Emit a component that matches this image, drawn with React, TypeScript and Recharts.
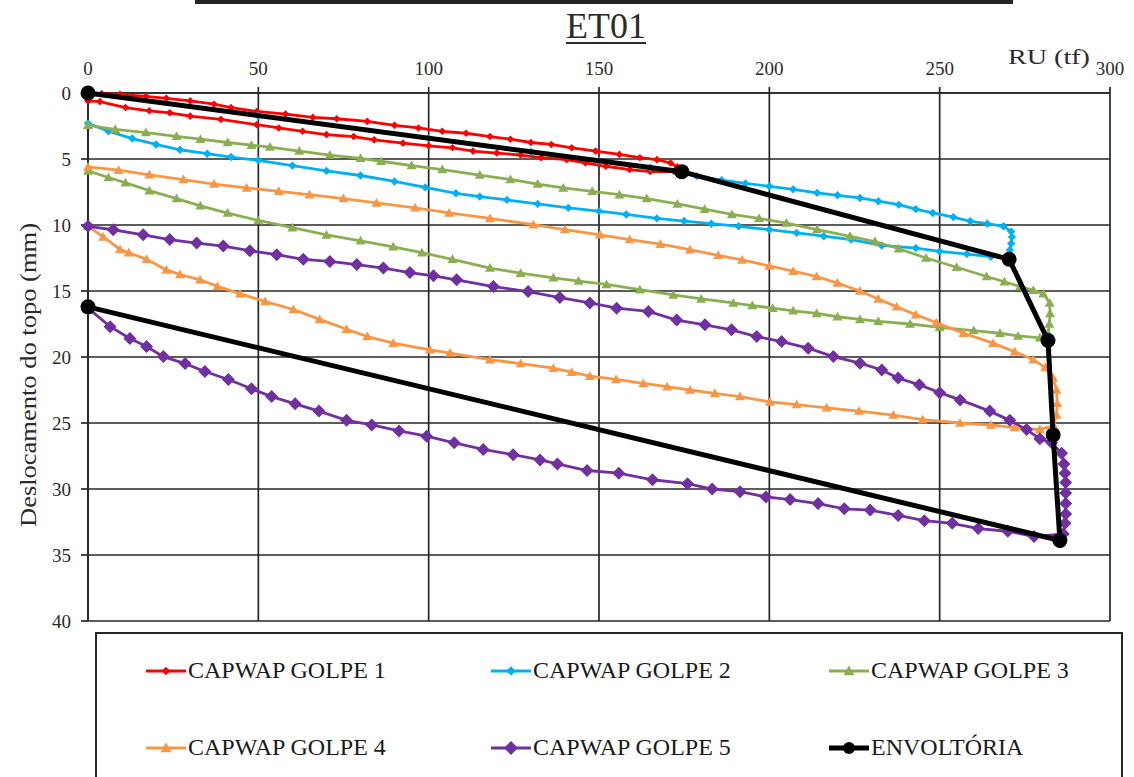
import React from 'react';
import { ScatterChart, Scatter, XAxis, YAxis, CartesianGrid } from 'recharts';

const ruTicks = [0, 50, 100, 150, 200, 250, 300];
const deslTicks = [0, 5, 10, 15, 20, 25, 30, 35, 40];

const seriesNames = [
  'CAPWAP GOLPE 1',
  'CAPWAP GOLPE 2',
  'CAPWAP GOLPE 3',
  'CAPWAP GOLPE 4',
  'CAPWAP GOLPE 5',
  'ENVOLTÓRIA',
];

// [RU (tf), deslocamento do topo (mm)] - carregamento seguido de descarregamento
const golpe1: [number, number][] = [
  [0, 0], [4, 0.05], [9.4, 0.1], [17, 0.25], [23, 0.4], [30, 0.6], [37, 0.85], [42, 1.1],
  [49.5, 1.4], [58, 1.6], [66, 1.85], [73, 1.95], [82, 2.15], [90, 2.45], [97, 2.65],
  [104, 2.9], [111, 3.05], [118, 3.3], [124, 3.5], [130, 3.75], [136, 3.9], [142, 4.15],
  [149, 4.4], [156, 4.65], [162, 4.9], [167, 5.05], [171, 5.3], [173, 5.6],
  [172, 5.95], [165, 5.95], [159, 5.8], [152, 5.55], [146, 5.3], [140.5, 5.05], [133, 4.9],
  [127, 4.7], [120, 4.55], [113, 4.4], [107, 4.15], [100, 4.0], [92.5, 3.8], [84, 3.55],
  [78, 3.3], [70, 3.15], [63, 2.9], [56, 2.65], [49.5, 2.4], [39, 2.0], [30, 1.75],
  [24, 1.5], [18, 1.35], [11, 1.1], [3.5, 0.65], [0, 0.6],
];

const golpe2: [number, number][] = [
  [0, 0.05], [50, 1.72], [100, 3.43], [130, 4.45], [150, 5.13], [165, 5.65], [174, 6.0],
  [178.7, 6.3], [186, 6.6], [193, 6.85], [200, 7.07], [207, 7.3], [214, 7.57], [220, 7.75],
  [226.6, 7.95], [232, 8.2], [238, 8.46], [243, 8.8], [248, 9.09], [254, 9.4], [259, 9.72],
  [264, 9.9], [268.7, 10.1], [271, 10.5], [271.2, 10.9], [271, 11.4], [270.6, 11.9], [270.2, 12.45],
  [265, 12.4], [258, 12.2], [250, 12.0], [243, 11.75], [233, 11.55], [224, 11.1], [216, 10.85],
  [208, 10.6], [200, 10.35], [191, 10.1], [183, 9.9], [175, 9.7], [167, 9.5], [158, 9.2],
  [150, 8.95], [141, 8.7], [132, 8.4], [123, 8.1], [115, 7.85], [108, 7.6], [99, 7.15],
  [90, 6.7], [80, 6.25], [70, 5.9], [60, 5.5], [50, 5.1], [42, 4.85], [35, 4.6], [27, 4.3],
  [20, 3.9], [13, 3.45], [6, 2.9], [0, 2.3],
];

const golpe3: [number, number][] = [
  [0, 2.45], [8, 2.75], [17, 3.0], [26, 3.28], [33, 3.5], [41, 3.75], [48, 3.95], [53.4, 4.1],
  [62, 4.4], [71, 4.7], [80, 4.95], [86, 5.17], [95, 5.5], [104, 5.8], [115, 6.22], [124, 6.55],
  [132, 6.9], [139.5, 7.19], [148, 7.45], [156, 7.7], [164, 8.0], [173, 8.4], [181, 8.8],
  [189, 9.2], [197, 9.5], [205, 9.85], [214, 10.35], [223.7, 10.86], [231, 11.25], [238, 11.8],
  [246, 12.5], [255, 13.2], [263.8, 13.9], [269, 14.3], [273.6, 14.66], [277.5, 14.95],
  [280.4, 15.2], [282.3, 15.9], [282.4, 16.7], [282.2, 17.5], [281.8, 18.2],
  [279.4, 18.55], [273, 18.4], [267.7, 18.2], [260, 18.0], [250, 17.75], [241.3, 17.5],
  [232, 17.3], [226.6, 17.15], [220, 16.95], [213.9, 16.7], [207, 16.5], [201, 16.3],
  [195, 16.1], [189.4, 15.9], [180, 15.6], [171.8, 15.3], [162, 14.9], [152.2, 14.5],
  [144, 14.25], [136.6, 14.0], [127, 13.65], [118, 13.26], [107, 12.6], [98, 12.1],
  [89.6, 11.65], [80, 11.2], [70, 10.75], [60, 10.2], [50, 9.65], [41, 9.1], [33, 8.55],
  [26, 8.0], [18, 7.4], [11, 6.8], [6, 6.4], [0, 5.9],
];

const golpe4: [number, number][] = [
  [0, 5.6], [9, 5.85], [18, 6.2], [28, 6.56], [37, 6.9], [46.6, 7.19], [56, 7.45], [65, 7.7],
  [75, 8.0], [84.7, 8.33], [96, 8.7], [106, 9.09], [118, 9.5], [130.7, 9.98], [140, 10.35],
  [150.3, 10.74], [159, 11.1], [168, 11.45], [176.7, 11.87], [185, 12.3], [192, 12.65],
  [200, 13.1], [207, 13.5], [213.9, 13.9], [220, 14.4], [226.6, 15.0], [232, 15.6],
  [237.4, 16.2], [243, 16.8], [249, 17.4], [257, 18.2], [265.7, 18.95], [272, 19.6],
  [277.5, 20.2], [281, 20.8], [283.3, 21.6], [284.3, 22.5], [284.5, 23.5], [284.3, 24.4],
  [283.5, 25.2],
  [279.4, 25.5], [272, 25.35], [265, 25.15], [256, 25.0], [245, 24.75], [236.4, 24.4],
  [226.3, 24.1], [216.8, 23.85], [208, 23.6], [200.2, 23.4], [191.4, 23.0], [184, 22.75],
  [176.7, 22.5], [170, 22.25], [163, 22.0], [155, 21.7], [147.3, 21.45], [142, 21.15],
  [136.6, 20.85], [127, 20.5], [118, 20.2], [106.3, 19.7], [100.4, 19.46], [89.6, 18.95],
  [82, 18.45], [75.9, 17.9], [68, 17.15], [60.3, 16.4], [52, 15.8], [44.6, 15.2], [38, 14.65],
  [32.9, 14.15], [27, 13.75], [23, 13.4], [17.2, 12.6], [12, 12.1], [9.4, 11.85], [4.5, 10.9],
  [0, 10.1],
];

const golpe5: [number, number][] = [
  [0, 10.1], [7.4, 10.36], [16.2, 10.74], [24, 11.1], [31.9, 11.37], [39.7, 11.6], [47.5, 11.95],
  [55.4, 12.25], [63.2, 12.6], [71, 12.76], [78.9, 13.0], [86.7, 13.26], [94.5, 13.6],
  [101.4, 13.85], [108.2, 14.15], [119, 14.66], [129.2, 15.04], [138.5, 15.5], [147.3, 15.9],
  [155.2, 16.3], [164.5, 16.55], [172.8, 17.2], [181.1, 17.56], [188.9, 17.94], [196.3, 18.45],
  [203.6, 18.83], [211.4, 19.33], [218.8, 19.97], [226.6, 20.47], [233, 20.98], [237.8, 21.6],
  [244, 22.1], [250, 22.7], [256, 23.25], [264.7, 24.1], [270.6, 24.8], [275.5, 25.5],
  [279.4, 26.2], [282.9, 26.5], [285.8, 27.3], [286.5, 28.1], [286.8, 28.8], [287, 29.5],
  [287, 30.3], [287, 31.1], [287, 31.9], [286.8, 32.6], [286.3, 33.4],
  [277.7, 33.6], [270, 33.2], [261.3, 33.0], [253.7, 32.6], [245.5, 32.4], [237.8, 32.0],
  [229.6, 31.6], [222, 31.5], [214.3, 31.1], [206.1, 30.8], [199, 30.6], [191.4, 30.2],
  [183.2, 30.0], [176, 29.6], [165.7, 29.3], [155.8, 28.8], [146.5, 28.6], [137.8, 28.1],
  [132.7, 27.8], [124.8, 27.4], [116, 27.0], [107.5, 26.5], [99.4, 26.0], [91.3, 25.6],
  [83.3, 25.15], [75.9, 24.8], [67.8, 24.1], [60.8, 23.55], [53.9, 23.0], [48, 22.4],
  [41.2, 21.7], [34.3, 21.1], [28.5, 20.5], [22.1, 19.97], [17.2, 19.2], [12.3, 18.6],
  [6.5, 17.7], [0, 16.3],
];

const envoltoria: [number, number][] = [
  [0, 0], [174.3, 5.96], [270.4, 12.6], [281.8, 18.75], [283.3, 25.9], [285.3, 33.9], [0, 16.2],
];

const toPoints = (rows: [number, number][]) => rows.map(([ru, d]) => ({ ru, d }));

const FONT = "'Liberation Serif', 'Times New Roman', serif";
const INK = '#262626';
const TEXT = '#2b2b2b';

type MarkerKind = 'diamond' | 'triangle' | 'circle';

const markerPath = (kind: MarkerKind, cx: number, cy: number, r: number) => {
  if (kind === 'diamond') return `M${cx},${cy - r}L${cx + r},${cy}L${cx},${cy + r}L${cx - r},${cy}Z`;
  if (kind === 'triangle') return `M${cx},${cy - r}L${cx + r},${cy + r * 0.75}L${cx - r},${cy + r * 0.75}Z`;
  return `M${cx - r},${cy}a${r},${r} 0 1,0 ${2 * r},0a${r},${r} 0 1,0 ${-2 * r},0`;
};

const makeShape = (kind: MarkerKind, r: number, color: string) => (p: any) =>
  <path d={markerPath(kind, p.cx, p.cy, r)} fill={color} />;

const series = [
  { rows: golpe1, color: '#FF0000', kind: 'diamond' as MarkerKind, r: 3.8, width: 2.8 },
  { rows: golpe2, color: '#00B0F0', kind: 'diamond' as MarkerKind, r: 4.2, width: 2.8 },
  { rows: golpe3, color: '#8CAE52', kind: 'triangle' as MarkerKind, r: 5, width: 2.8 },
  { rows: golpe4, color: '#F79646', kind: 'triangle' as MarkerKind, r: 5, width: 2.8 },
  { rows: golpe5, color: '#7030A0', kind: 'diamond' as MarkerKind, r: 6.5, width: 2.8 },
  { rows: envoltoria, color: '#000000', kind: 'circle' as MarkerKind, r: 7.5, width: 5 },
];

const YTitle = ({ viewBox }: any) => {
  const x = viewBox.x + 28;
  const y = viewBox.y + 282;
  return (
    <text x={x} y={y} transform={`rotate(-90 ${x} ${y})`} textAnchor="middle" dominantBaseline="central"
      fontFamily={FONT} fontSize={23} fill={TEXT} textLength={304} lengthAdjust="spacingAndGlyphs">
      Deslocamento do topo  (mm)
    </text>
  );
};

const XTitle = ({ viewBox }: any) => (
  <text x={viewBox.x + viewBox.width - 61} y={viewBox.y + 57} textAnchor="middle" dominantBaseline="central"
    fontFamily={FONT} fontSize={21} fill={TEXT} textLength={82} lengthAdjust="spacingAndGlyphs">
    RU (tf)
  </text>
);

const LegendKey = ({ color, kind, r, width }: any) => (
  <svg width={42} height={20} style={{ display: 'block' }}>
    <line x1={1} y1={10} x2={41} y2={10} stroke={color} strokeWidth={width} />
    <path d={markerPath(kind, 21, 10, kind === 'circle' ? 6 : r + 0.5)} fill={color} />
  </svg>
);

const legendCols = [48, 393, 731];
const legendRows = [36, 113];

export default function App() {
  return (
    <div style={{ position: 'absolute', left: 0, top: 0, width: 1134, height: 777, background: '#fff', overflow: 'hidden', fontFamily: FONT }}>
      <div style={{ position: 'absolute', left: 195, top: 0, width: 818, borderTop: `4px solid ${INK}` }} />
      <div style={{ position: 'absolute', left: 606, top: 5, transform: 'translateX(-50%)', whiteSpace: 'nowrap' }}>
        <span style={{ fontSize: 36, color: TEXT, textDecoration: 'underline', textUnderlineOffset: 4, textDecorationThickness: 2 }}>ET01</span>
      </div>
      <ScatterChart width={1134} height={777} margin={{ top: 0, right: 24, bottom: 156, left: 0 }}>
        <CartesianGrid stroke={INK} strokeWidth={1.7} fill="#fff" />
        <XAxis type="number" dataKey="ru" orientation="top" domain={[0, 300]} ticks={ruTicks} height={93}
          tickSize={6} tickMargin={12} axisLine={{ stroke: INK, strokeWidth: 1.7 }} tickLine={{ stroke: INK, strokeWidth: 1.7 }}
          tick={{ fontFamily: FONT, fontSize: 19, fill: TEXT }} label={<XTitle />} />
        <YAxis type="number" dataKey="d" reversed domain={[0, 40]} ticks={deslTicks} width={88}
          tickSize={7} tickMargin={10} axisLine={{ stroke: INK, strokeWidth: 1.7 }} tickLine={{ stroke: INK, strokeWidth: 1.7 }}
          tick={{ fontFamily: FONT, fontSize: 19, fill: TEXT }} label={<YTitle />} />
        {series.map((s, i) => (
          <Scatter key={seriesNames[i]} name={seriesNames[i]} data={toPoints(s.rows)} fill={s.color}
            line={{ stroke: s.color, strokeWidth: s.width }} lineType="joint"
            shape={makeShape(s.kind, s.r, s.color)} isAnimationActive={false} />
        ))}
      </ScatterChart>
      <div style={{ position: 'absolute', left: 95, top: 632, width: 1028, height: 170, border: `2px solid ${INK}`, boxSizing: 'border-box' }}>
        {series.map((s, i) => (
          <div key={seriesNames[i]} style={{
            position: 'absolute', left: legendCols[i % 3], top: legendRows[Math.floor(i / 3)] - 13,
            display: 'flex', alignItems: 'center', whiteSpace: 'nowrap',
          }}>
            <LegendKey color={s.color} kind={s.kind} r={s.r} width={s.width} />
            <span style={{ fontSize: 24, color: '#1a1a1a', marginLeft: 1 }}>{seriesNames[i]}</span>
          </div>
        ))}
      </div>
    </div>
  );
}
